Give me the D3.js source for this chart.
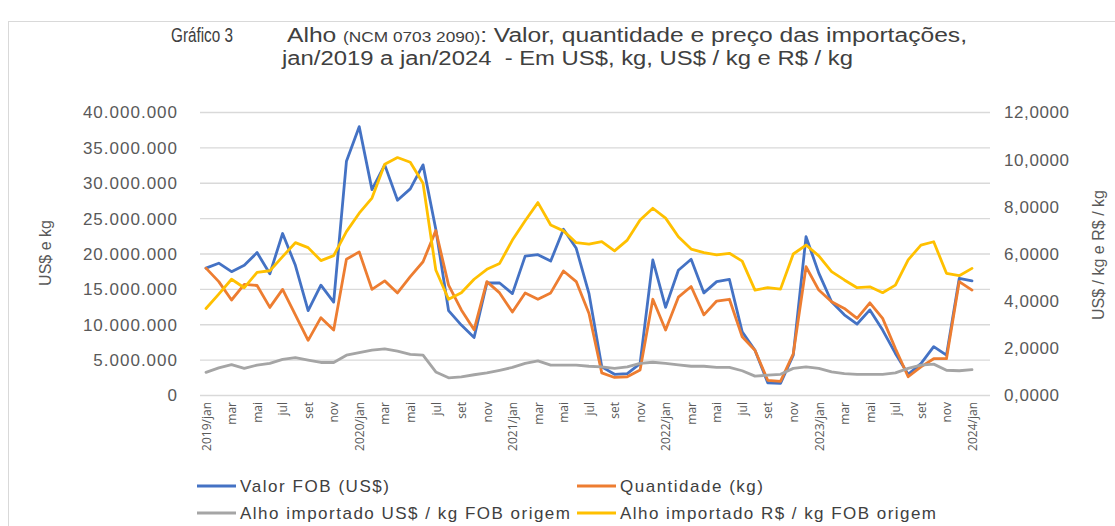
<!DOCTYPE html>
<html>
<head>
<meta charset="utf-8">
<script src="https://cdn.jsdelivr.net/npm/d3@7"></script>
<style>
  body { margin: 0; background: #fff; }
  text { font-family: "Liberation Sans", Arial, sans-serif; }
</style>
</head>
<body>
<div class="chart"></div>
<script>
var width = 1115;
var height = 526;

// meses jan/2019 .. jan/2024
var mesesNomes = ["jan", "fev", "mar", "abr", "mai", "jun", "jul", "ago", "set", "out", "nov", "dez"];
var anos = [2019, 2020, 2021, 2022, 2023, 2024];
var meses = [];
anos.forEach(function(a) {
  mesesNomes.forEach(function(m) {
    if (a < 2024 || m === "jan") meses.push(a + "/" + m);
  });
});

// Valor FOB (US$), milhões
var valorFOB = [18.0, 18.7, 17.5, 18.4, 20.2, 17.2, 22.9, 18.4, 12.0, 15.6, 13.2, 33.1,
  38.0, 29.1, 32.6, 27.6, 29.2, 32.6, 23.5, 12.0, 9.95, 8.2, 15.9, 15.9,
  14.4, 19.7, 19.9, 19.0, 23.5, 20.8, 14.4, 4.05, 3.0, 3.1, 4.5, 19.15,
  12.45, 17.7, 19.25, 14.5, 16.1, 16.4, 9.0, 6.4, 1.8, 1.7, 5.7, 22.45,
  17.3, 13.25, 11.4, 10.1, 12.1, 9.25, 5.95, 3.0, 4.5, 6.9, 5.7, 16.55,
  16.2];

// Quantidade (kg), milhões
var quantidade = [18.0, 16.1, 13.5, 15.7, 15.55, 12.45, 15.0, 11.4, 7.8, 11.0, 9.25, 19.25,
  20.3, 15.0, 16.2, 14.5, 16.8, 18.9, 23.3, 15.6, 12.1, 9.3, 16.1, 14.5,
  11.8, 14.5, 13.6, 14.5, 17.6, 16.1, 11.6, 3.2, 2.55, 2.65, 3.6, 13.6,
  9.25, 13.9, 15.4, 11.4, 13.35, 13.6, 8.3, 6.4, 2.15, 2.0, 5.9, 18.2,
  14.9, 13.25, 12.3, 10.9, 13.1, 10.9, 6.65, 2.65, 4.05, 5.2, 5.2, 16.1,
  14.9];

// Alho importado US$ / kg FOB origem
var precoUSD = [0.98, 1.17, 1.31, 1.15, 1.29, 1.36, 1.53, 1.61, 1.5, 1.40, 1.40, 1.71,
  1.82, 1.92, 1.98, 1.88, 1.74, 1.71, 1.0, 0.75, 0.79, 0.88, 0.96, 1.07,
  1.19, 1.36, 1.47, 1.29, 1.29, 1.29, 1.24, 1.21, 1.15, 1.21, 1.36, 1.41,
  1.36, 1.30, 1.24, 1.24, 1.19, 1.19, 1.05, 0.82, 0.86, 0.9, 1.15, 1.21,
  1.15, 1.0, 0.93, 0.9, 0.9, 0.9, 0.96, 1.15, 1.29, 1.33, 1.07, 1.05,
  1.1];

// Alho importado R$ / kg FOB origem
var precoBRL = [3.69, 4.30, 4.93, 4.57, 5.22, 5.29, 5.89, 6.48, 6.27, 5.72, 5.93, 6.95,
  7.73, 8.37, 9.81, 10.09, 9.89, 9.0, 5.32, 4.08, 4.36, 4.93, 5.35, 5.6,
  6.59, 7.41, 8.18, 7.23, 6.98, 6.48, 6.42, 6.52, 6.13, 6.59, 7.44, 7.94,
  7.52, 6.73, 6.21, 6.06, 5.96, 6.03, 5.70, 4.47, 4.57, 4.51, 6.0, 6.38,
  5.92, 5.25, 4.90, 4.57, 4.61, 4.36, 4.68, 5.75, 6.38, 6.52, 5.18, 5.08,
  5.39];

var ticksEsq = [0, 5, 10, 15, 20, 25, 30, 35, 40];
var ticksDir = [0, 2, 4, 6, 8, 10, 12];

var svg = d3.select(".chart")
  .append("svg")
  .attr("width", width)
  .attr("height", height);

// moldura
svg.append("rect")
  .attr("x", 8.5).attr("y", 21.5)
  .attr("width", 1200).attr("height", 600)
  .attr("fill", "none")
  .attr("stroke", "#d9d9d9");

var x = d3.scalePoint()
  .domain(meses)
  .range([206, 972]);

var yEsq = d3.scaleLinear()
  .domain([0, 40])
  .range([395.5, 112.5]);

var yDir = d3.scaleLinear()
  .domain([0, 12])
  .range([395.5, 112.5]);

// grade
svg.append("g").selectAll("line")
  .data(ticksEsq)
  .enter()
  .append("line")
  .attr("x1", 200).attr("x2", 990)
  .attr("y1", function(d) { return yEsq(d); })
  .attr("y2", function(d) { return yEsq(d); })
  .attr("stroke", "#d9d9d9")
  .attr("stroke-width", 1.3);

// eixo esquerdo
var fmtEsq = function(d) {
  return d === 0 ? "0" : d3.format(",")(d * 1e6).replace(/,/g, ".");
};
var eixoEsq = svg.append("g")
  .attr("transform", "translate(178,0)")
  .call(d3.axisLeft(yEsq).tickValues(ticksEsq).tickSize(0).tickPadding(0).tickFormat(fmtEsq));
eixoEsq.select(".domain").remove();
eixoEsq.selectAll("text")
  .attr("fill", "#595959")
  .style("font-size", "17px")
  .style("letter-spacing", "1px")
  .style("font-family", "'Liberation Sans', Arial, sans-serif");

// eixo direito
var fmtDir = function(d) { return d3.format(".4f")(d).replace(".", ","); };
var eixoDir = svg.append("g")
  .attr("transform", "translate(1004,0)")
  .call(d3.axisRight(yDir).tickValues(ticksDir).tickSize(0).tickPadding(0).tickFormat(fmtDir));
eixoDir.select(".domain").remove();
eixoDir.selectAll("text")
  .attr("fill", "#595959")
  .style("font-size", "17px")
  .style("letter-spacing", "0.6px")
  .style("font-family", "'Liberation Sans', Arial, sans-serif");

// eixo x (rotulos a cada 2 meses)
var eixoX = svg.append("g")
  .attr("transform", "translate(0,402)")
  .call(d3.axisBottom(x)
    .tickValues(meses.filter(function(d, i) { return i % 2 === 0; }))
    .tickSize(0)
    .tickFormat(function(d) { return d.indexOf("/jan") > 0 ? d : d.split("/")[1]; }));
eixoX.select(".domain").remove();
eixoX.selectAll("text")
  .attr("fill", "#595959")
  .attr("transform", "rotate(-90)")
  .attr("x", 0).attr("y", 0).attr("dy", "0.35em")
  .style("text-anchor", "end")
  .style("font-size", "12px")
  .style("font-family", "'Open Sans', sans-serif");

// titulos dos eixos
svg.append("text")
  .attr("transform", "translate(51,253) rotate(-90)")
  .attr("text-anchor", "middle")
  .attr("fill", "#595959")
  .style("font-size", "16px")
  .text("US$ e kg");

svg.append("text")
  .attr("transform", "translate(1104,255) rotate(-90)")
  .attr("text-anchor", "middle")
  .attr("fill", "#595959")
  .style("font-size", "16px")
  .attr("textLength", 130)
  .attr("lengthAdjust", "spacing")
  .text("US$ / kg e R$ / kg");

// linhas
function desenha(valores, escala, cor) {
  var linha = d3.line()
    .x(function(d, i) { return x(meses[i]); })
    .y(function(d) { return escala(d); });
  svg.append("path")
    .datum(valores)
    .attr("fill", "none")
    .attr("stroke", cor)
    .attr("stroke-width", 2.8)
    .attr("stroke-linejoin", "round")
    .attr("stroke-linecap", "round")
    .attr("d", linha);
}
desenha(valorFOB, yEsq, "#4472c4");
desenha(quantidade, yEsq, "#ed7d31");
desenha(precoUSD, yDir, "#a5a5a5");
desenha(precoBRL, yDir, "#ffc000");

// titulo
svg.append("text")
  .attr("x", 171).attr("y", 42)
  .attr("fill", "#404040")
  .style("font-size", "20px")
  .attr("textLength", 62)
  .attr("lengthAdjust", "spacingAndGlyphs")
  .text("Gráfico 3");

var t1 = svg.append("text")
  .attr("x", 287).attr("y", 42)
  .attr("fill", "#404040")
  .style("font-size", "20px")
  .attr("textLength", 680)
  .attr("lengthAdjust", "spacingAndGlyphs");
t1.append("tspan").text("Alho ");
t1.append("tspan").style("font-size", "14px").text("(NCM 0703 2090)");
t1.append("tspan").text(": Valor, quantidade e preço das importações,");

svg.append("text")
  .attr("x", 282).attr("y", 65)
  .attr("fill", "#404040")
  .style("font-size", "20px")
  .attr("textLength", 571)
  .attr("lengthAdjust", "spacingAndGlyphs")
  .attr("xml:space", "preserve")
  .text("jan/2019 a jan/2024  - Em US$, kg, US$ / kg e R$ / kg");

// legenda
var legenda = [
  { nome: "Valor FOB (US$)", cor: "#4472c4", x: 197, y: 486, w: 149 },
  { nome: "Quantidade (kg)", cor: "#ed7d31", x: 577, y: 486, w: 143 },
  { nome: "Alho importado US$ / kg FOB origem", cor: "#a5a5a5", x: 197, y: 513, w: 330 },
  { nome: "Alho importado R$ / kg FOB origem", cor: "#ffc000", x: 577, y: 513, w: 316 }
];
var leg = svg.append("g").selectAll("g")
  .data(legenda)
  .enter()
  .append("g")
  .attr("transform", function(d) { return "translate(" + d.x + "," + d.y + ")"; });
leg.append("line")
  .attr("x1", 0).attr("x2", 39)
  .attr("stroke", function(d) { return d.cor; })
  .attr("stroke-width", 2.8);
leg.append("text")
  .attr("x", 43).attr("dy", "0.36em")
  .attr("fill", "#404040")
  .style("font-size", "17px")
  .attr("textLength", function(d) { return d.w; })
  .attr("lengthAdjust", "spacing")
  .text(function(d) { return d.nome; });
</script>
</body>
</html>
